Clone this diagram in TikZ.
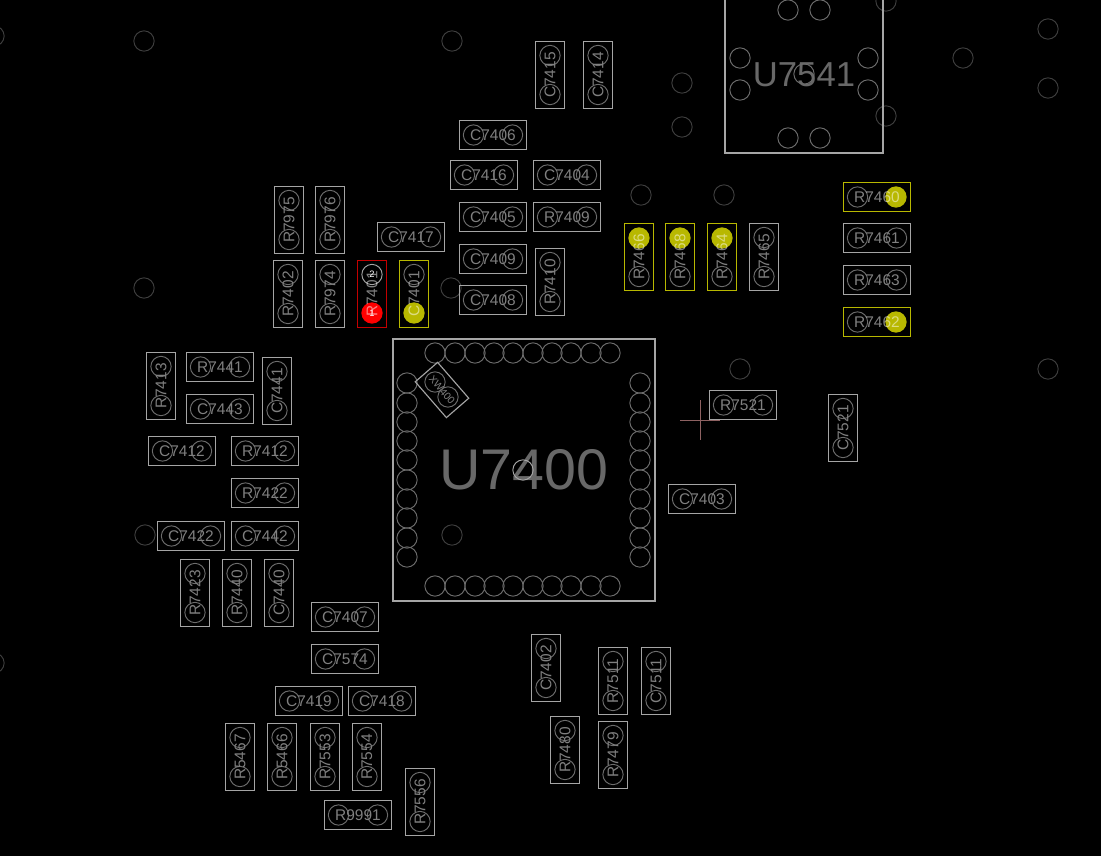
\documentclass[tikz,border=0pt]{standalone}
\usepackage{fontspec}
\setmainfont{Liberation Sans}
\usetikzlibrary{positioning}
\definecolor{partline}{RGB}{165, 165, 165}
\definecolor{padline}{RGB}{108, 108, 108}
\definecolor{vialine}{RGB}{62, 62, 62}
\definecolor{reftext}{RGB}{128, 128, 128}
\definecolor{bigtext}{RGB}{104, 104, 104}
\definecolor{netyellow}{RGB}{184, 184, 0}
\definecolor{netred}{RGB}{196, 0, 0}
\definecolor{padred}{RGB}{255, 0, 0}
\definecolor{crosshair}{RGB}{142, 98, 98}
\tikzset{
  hpart/.style={draw=partline, line width=0.85pt, minimum width=50.5pt, minimum height=22.2pt,
    inner sep=0pt, outer sep=0pt, text=reftext, font=\fontsize{11.6}{12}\selectfont},
  vpart/.style={hpart, rotate=90},
  pad/.style={draw=padline, circle, line width=0.7pt, minimum size=15.2pt, inner sep=0pt, outer sep=0pt},
  via/.style={draw=vialine, circle, line width=0.7pt, minimum size=15.2pt, inner sep=0pt, outer sep=0pt},
  netpad/.style={pad, fill=netyellow, draw=netyellow},
  bigref/.style={text=bigtext, inner sep=0pt},
  pinnum/.style={text=white, inner sep=0pt, font=\fontsize{7}{8}\selectfont}
}

\begin{document}
\begin{tikzpicture}[x=0.75pt, y=-0.75pt]
  \fill[black] (0, 0) rectangle (1101, 856);
  \useasboundingbox (0, 0) rectangle (1101, 856);
  \clip (0, 0) rectangle (1101, 856);

  % vias
  \foreach \x/\y [count=\i] in {144/41, 452/41, 682/83, 682/127, 641/195, 724/195, 963/58, 1048/29,
      1048/88, 886/116, 886/1, -6/36, 144/288, 451/288, 740/369, 1048/369, 145/535, 452/535, -6/663}
    \node[via] (via\i) at (\x, \y) {};

  % horizontal parts
  \foreach \name/\x/\y in {C7406/493/135, C7416/484/175, C7404/567/175, C7405/493/217, R7409/567/217,
      C7417/411/237, C7409/493/259, C7408/493/300, R7441/220/367, C7443/220/409, C7412/182/451,
      R7412/265/451, R7422/265/493, C7422/191/536, C7442/265/536, C7407/345/617, C7574/345/659,
      C7419/309/701, C7418/382/701, R9991/358/815, R7521/743/405, C7403/702/499, R7461/877/238,
      R7463/877/280} {
    \node[pad] (\name-1) at (\x-19.5, \y) {};
    \node[pad] (\name-2) at (\x+19.5, \y) {};
    \node[hpart] (\name) at (\x, \y) {\name};
  }

  % vertical parts
  \foreach \name/\x/\y in {C7415/550/75, C7414/598/75, R7975/289/220, R7976/330/220, R7402/288/294,
      R7974/330/294, R7410/550/282, R7465/764/257, R7413/161/386, C7441/277/391, R7423/195/593,
      R7440/237/593, C7440/279/593, C7402/546/668, R7511/613/681, C7511/656/681, R7480/565/750,
      R7479/613/755, R5467/240/757, R5466/282/757, R7553/325/757, R7554/367/757, R7556/420/802,
      C7521/843/428} {
    \node[pad] (\name-1) at (\x, \y+19.5) {};
    \node[pad] (\name-2) at (\x, \y-19.5) {};
    \node[vpart] (\name) at (\x, \y) {\name};
  }

  % parts on the yellow net
  \foreach \name/\y in {R7460/197, R7462/322} {
    \node[pad] (\name-1) at (857.5, \y) {};
    \node[netpad] (\name-2) at (896, \y) {};
    \node[hpart, draw=netyellow, blend mode=screen] (\name) at (877, \y) {\name};
  }
  \foreach \name/\x in {R7466/639, R7468/680, R7464/722} {
    \node[pad] (\name-1) at (\x, 276.5) {};
    \node[netpad] (\name-2) at (\x, 238) {};
    \node[vpart, draw=netyellow, blend mode=screen] (\name) at (\x, 257) {\name};
  }
  \node[netpad] (C7401-1) at (414, 313) {};
  \node[pad] (C7401-2) at (414, 274.5) {};
  \node[vpart, draw=netyellow, blend mode=screen] (C7401) at (414, 294) {C7401};

  % selected part
  \node[pad, fill=padred, draw=padred] (R7401-1) at (372, 313) {};
  \node[pad, draw=partline] (R7401-2) at (372, 274.5) {};
  \node[vpart, draw=netred, blend mode=screen] (R7401) at (372, 294) {R7401};
  \node[pinnum] (R7401-num2) at (R7401-2) {2};
  \node[pinnum] (R7401-num1) at (R7401-1) {1};

  % U7400
  \node[draw=partline, line width=0.85pt, minimum size=196.5pt, inner sep=0pt, outer sep=0pt] (U7400) at (524, 470) {};
  \foreach \x [count=\i] in {435, 455, 475, 494, 513, 533, 552, 571, 591, 610} {
    \node[pad] (top\i) at (\x, 353) {};
    \node[pad] (bot\i) at (\x, 586) {};
  }
  \foreach \y [count=\i] in {383, 403, 422, 441, 460, 480, 499, 518, 538, 557} {
    \node[pad] (lft\i) at (407, \y) {};
    \node[pad] (rgt\i) at (640, \y) {};
  }
  \node[bigref, font=\fontsize{43}{45}\selectfont] (U7400-ref) at (524, 470) {U7400};
  \node[pad, draw=partline] (via20) at (523, 470) {};

  % XW400
  \node[pad] (XW400-1) at (435, 382) {};
  \node[pad] (XW400-2) at (448, 397) {};
  \node[hpart, rotate=-49, minimum width=35.6pt, font=\fontsize{7.6}{8}\selectfont] (XW400) at (442, 390) {XW400};

  % U7541
  \draw[partline, line width=0.85pt] (725, -5) -- (725, 153) -- (883, 153) -- (883, -5);
  \foreach \x/\y [count=\i] in {788/10, 820/10, 740/58, 740/90, 868/58, 868/90, 788/138, 820/138}
    \node[pad] (U7541-\i) at (\x, \y) {};
  \node[bigref, font=\fontsize{26}{28}\selectfont] (U7541-ref) at (804, 75) {U7541};
  \node[pad] (via21) at (804, 74) {};

  % crosshair
  \draw[crosshair, line width=0.7pt] (680, 420) -- (720, 420);
  \draw[crosshair, line width=0.7pt] (700, 400) -- (700, 440);
\end{tikzpicture}
\end{document}
